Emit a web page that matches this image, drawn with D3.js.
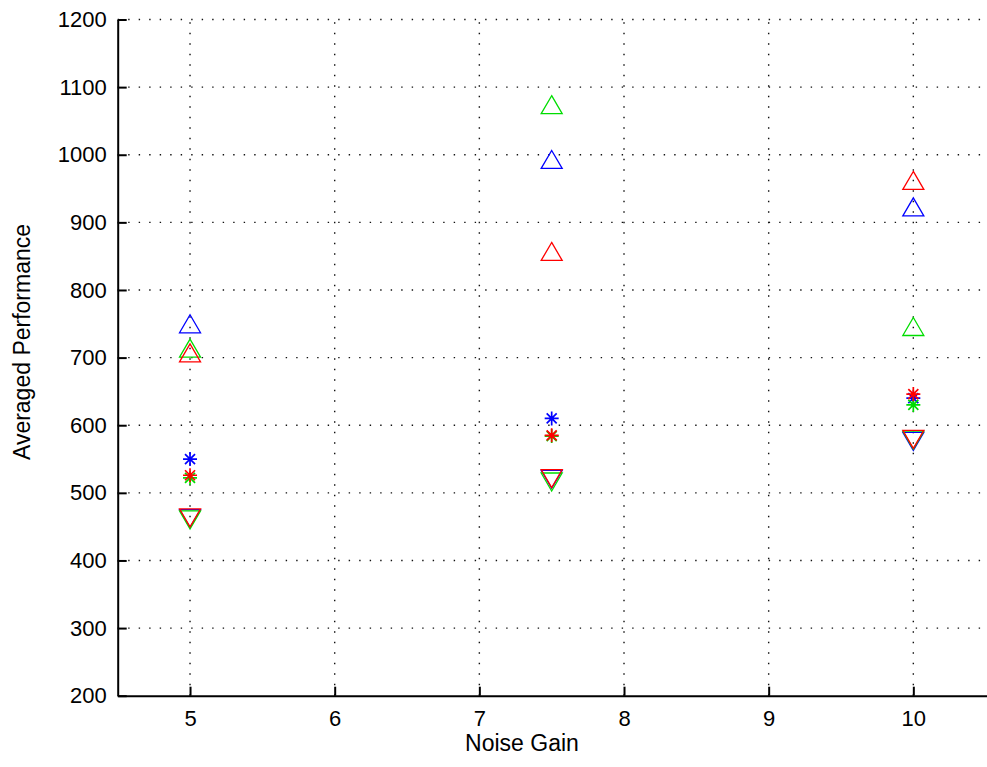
<!DOCTYPE html>
<html>
<head>
<meta charset="utf-8">
<script src="https://cdn.jsdelivr.net/npm/d3@7"></script>
<style>
  html, body { margin: 0; padding: 0; background: #fff; }
  svg { display: block; }
  text { font-family: "Liberation Sans", Arial, sans-serif; fill: #000; }
</style>
</head>
<body>
<svg id="chart" width="987" height="767"></svg>
<script>
// Noise gain settings on the x axis
const noiseGain = [5, 7.5, 10];

// Averaged performance per run: upper (^), mean (*) and lower (v) values
const blueUpper  = [750, 993, 923];
const greenUpper = [714, 1074, 746];
const redUpper   = [707, 857, 962];

const blueMean  = [550, 610, 640];
const greenMean = [522, 584, 630];
const redMean   = [526, 585, 646];

const blueLower  = [462, 520, 576];
const greenLower = [460, 516, 578];
const redLower   = [463, 521, 579];

// Axis ticks
const xTicks = [5, 6, 7, 8, 9, 10];
const yTicks = [200, 300, 400, 500, 600, 700, 800, 900, 1000, 1100, 1200];

const series = [
  { values: blueUpper,  color: "#0000ff", marker: "up" },
  { values: blueMean,   color: "#0000ff", marker: "star" },
  { values: blueLower,  color: "#0000ff", marker: "down" },
  { values: greenUpper, color: "#00dd00", marker: "up" },
  { values: greenMean,  color: "#00dd00", marker: "star" },
  { values: greenLower, color: "#00dd00", marker: "down" },
  { values: redUpper,   color: "#ff0000", marker: "up" },
  { values: redMean,    color: "#ff0000", marker: "star" },
  { values: redLower,   color: "#ff0000", marker: "down" }
];

const svg = d3.select("#chart");
const plotLeft = 117.7, plotTop = 19.5, plotBottom = 695.7;
const unitPx = 144.66;
const W = 987;
const fontStack = '"Liberation Sans", Arial, sans-serif';

const x = d3.scaleLinear().domain([4.5, 11]).range([plotLeft, plotLeft + 6.5 * unitPx]);
const y = d3.scaleLinear().domain([200, 1200]).range([plotBottom, plotTop]);

// Dotted grid
const grid = svg.append("g").attr("stroke", "#111").attr("stroke-width", 1.4)
  .attr("stroke-dasharray", "1.4 9.1").attr("fill", "none");
grid.selectAll("line.v").data(xTicks).join("line").attr("class", "v")
  .attr("x1", d => x(d)).attr("x2", d => x(d))
  .attr("y1", plotBottom).attr("y2", plotTop);
grid.selectAll("line.h").data(yTicks.filter(d => d > 200)).join("line").attr("class", "h")
  .attr("x1", plotLeft).attr("x2", W)
  .attr("y1", d => y(d)).attr("y2", d => y(d));

// Axes with inward ticks
const xAxis = d3.axisBottom(x).tickValues(xTicks).tickSizeInner(-9).tickSizeOuter(0).tickPadding(15)
  .tickFormat(d3.format("d"));
const yAxis = d3.axisLeft(y).tickValues(yTicks).tickSizeInner(-9).tickSizeOuter(0).tickPadding(11)
  .tickFormat(d3.format("d"));

const gx = svg.append("g").attr("transform", `translate(0,${plotBottom})`).call(xAxis);
const gy = svg.append("g").attr("transform", `translate(${plotLeft},0)`).call(yAxis);
[gx, gy].forEach(g => {
  g.select(".domain").attr("stroke", "#000").attr("stroke-width", 2);
  g.selectAll(".tick line").attr("stroke", "#000").attr("stroke-width", 2);
  g.selectAll("text").attr("font-size", 22).attr("fill", "#222").style("font-family", fontStack);
});

// Axis titles
svg.append("text")
  .attr("x", 522).attr("y", 751)
  .attr("text-anchor", "middle").attr("font-size", 23).attr("fill", "#222")
  .style("font-family", fontStack)
  .text("Noise Gain");
svg.append("text")
  .attr("transform", `translate(30,342) rotate(-90)`)
  .attr("text-anchor", "middle").attr("font-size", 23).attr("fill", "#222")
  .style("font-family", fontStack)
  .text("Averaged Performance");

// Marker shapes around a data point
function markerPath(kind, cx, cy) {
  const p = d3.path();
  const hw = 10.5, hh = 9;
  if (kind === "up") {
    p.moveTo(cx, cy - hh); p.lineTo(cx + hw, cy + hh); p.lineTo(cx - hw, cy + hh); p.closePath();
  } else if (kind === "down") {
    p.moveTo(cx - hw, cy - hh); p.lineTo(cx + hw, cy - hh); p.lineTo(cx, cy + hh); p.closePath();
  } else {
    const r = 7, q = 5;
    p.moveTo(cx - r, cy); p.lineTo(cx + r, cy);
    p.moveTo(cx, cy - r); p.lineTo(cx, cy + r);
    p.moveTo(cx - q, cy - q); p.lineTo(cx + q, cy + q);
    p.moveTo(cx - q, cy + q); p.lineTo(cx + q, cy - q);
  }
  return p.toString();
}

const marks = svg.append("g");
series.forEach(s => {
  marks.append("g")
    .selectAll("path")
    .data(s.values.map((v, i) => ({ gx: noiseGain[i], v })))
    .join("path")
    .attr("d", d => markerPath(s.marker, x(d.gx), y(d.v)))
    .attr("fill", "none")
    .attr("stroke", s.color)
    .attr("stroke-width", s.marker === "star" ? 1.7 : 1.3);
});
</script>
</body>
</html>
